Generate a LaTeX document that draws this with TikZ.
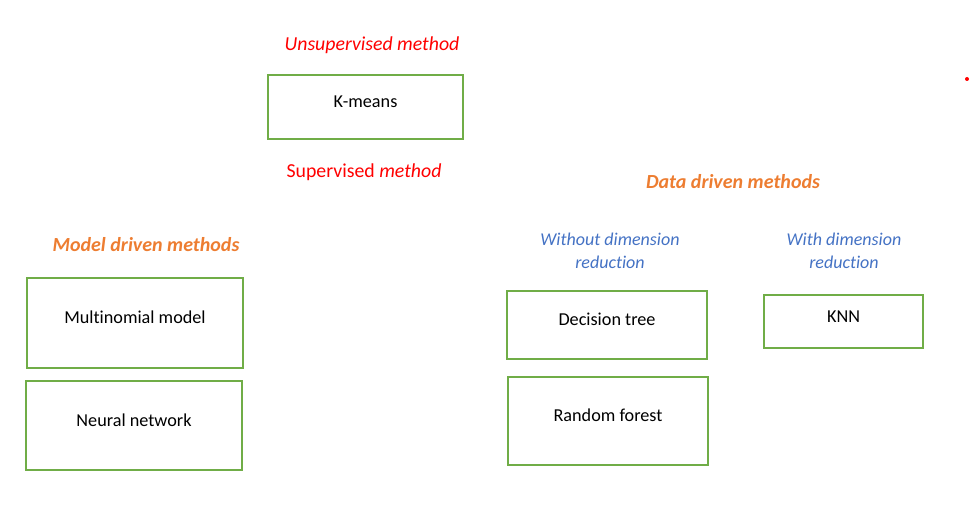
\documentclass[tikz,border=0pt]{standalone}
\usepackage{fontspec}
\setmainfont{Carlito}[Ligatures=NoCommon]
\usepackage{xcolor}
\usetikzlibrary{positioning}
\definecolor{boxgreen}{RGB}{112,173,71}
\definecolor{headorange}{RGB}{237,125,49}
\definecolor{subblue}{RGB}{68,114,196}
\definecolor{methred}{RGB}{255,0,0}

\begin{document}
\begin{tikzpicture}[x=1pt,y=-1pt,
    box/.style={draw=boxgreen,line width=1.8pt,inner sep=0pt,
      text height=12pt,text depth=10.5pt,font=\fontsize{18.2}{22}\selectfont},
    head/.style={text=headorange,font=\fontsize{20}{24}\selectfont\bfseries\itshape},
    redhead/.style={text=methred,font=\fontsize{19.8}{24}\selectfont},
    subhead/.style={text=subblue,align=center,font=\fontsize{18}{23}\selectfont\itshape}
  ]
  \useasboundingbox (0,0) rectangle (971,516);

  % unsupervised part
  \node[redhead] (unsup) at (372,45) {\itshape Unsupervised method};
  \node[box,minimum width=195pt,minimum height=64pt] (kmeans) at (365.5,107) {K-means};
  \node[redhead] (sup) at (364,172) {Supervised \textit{method}};

  % model driven
  \node[head] (model) at (146,245) {Model driven methods};
  \node[box,minimum width=216pt,minimum height=90pt] (multi) at (135,323) {Multinomial model};
  \node[box,minimum width=216pt,minimum height=89pt] (neural) at (134,425.5) {Neural network};

  % data driven
  \node[head] (data) at (733,182) {Data driven methods};
  \node[subhead] (without) at (610,250.5) {Without dimension\\reduction};
  \node[subhead] (with) at (844,250.5) {With dimension\\reduction};
  \node[box,minimum width=200pt,minimum height=68pt] (tree) at (607,325) {Decision tree};
  \node[box,minimum width=200pt,minimum height=88pt] (forest) at (608,421) {Random forest};
  \node[box,minimum width=159pt,minimum height=53pt] (knn) at (843.5,321.5) {KNN};

  \fill[methred] (967,79) circle (2);
\end{tikzpicture}
\end{document}
